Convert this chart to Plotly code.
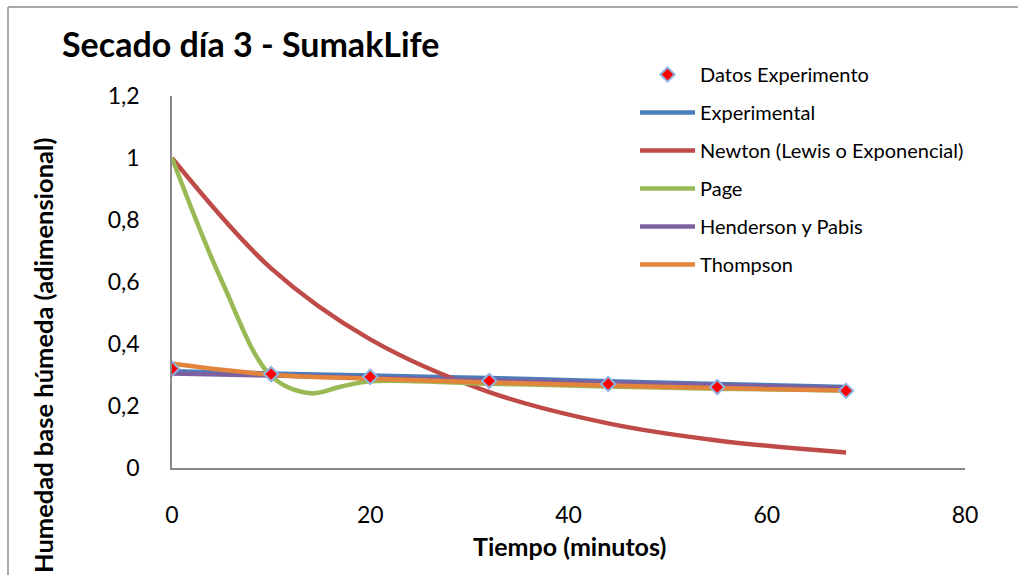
import plotly.graph_objects as go

# Drying time (minutes) and moisture ratio on wet basis
tiempo = [0, 10, 20, 32, 44, 55, 68]
datos_experimento = [0.320, 0.303, 0.294, 0.281, 0.271, 0.261, 0.249]

# Fitted drying models evaluated at the same times
experimental = [0.312, 0.305, 0.298, 0.290, 0.280, 0.271, 0.261]
newton = [1.000, 0.644, 0.415, 0.245, 0.144, 0.089, 0.050]
henderson_pabis = [0.305, 0.298, 0.291, 0.283, 0.275, 0.267, 0.258]
thompson = [0.336, 0.301, 0.288, 0.276, 0.266, 0.258, 0.250]

# Page model, sampled more finely over the first minutes
tiempo_page = [0, 5, 10, 14, 17, 20, 32, 44, 55, 68]
page = [1.000, 0.605, 0.297, 0.241, 0.262, 0.280, 0.272, 0.263, 0.256, 0.250]

x_ticks = [0, 20, 40, 60, 80]
y_ticks = [0, 0.2, 0.4, 0.6, 0.8, 1.0, 1.2]

W, H = 1019, 575
ML, MR, MT, MB = 172, 54, 96, 107
PW, PH = W - ML - MR, H - MT - MB

FONT = "Lato"

def px_x(px):
    return (px - ML) / PW

def px_y(py):
    return (H - MB - py) / PH

models = [
    ("Experimental", tiempo, experimental, "#4A7EBB"),
    ("Newton (Lewis o Exponencial)", tiempo, newton, "#BE4B48"),
    ("Page", tiempo_page, page, "#98B954"),
    ("Henderson y Pabis", tiempo, henderson_pabis, "#7D60A0"),
    ("Thompson", tiempo, thompson, "#E3843C"),
]

fig = go.Figure()
for i, (name, xs, vals, color) in enumerate(models):
    fig.add_trace(go.Scatter(
        x=xs, y=vals, name=name, mode="lines",
        line=dict(color=color, width=4.5, shape="spline", smoothing=1),
        legendgroup=name, legendrank=i + 2,
    ))

fig.add_trace(go.Scatter(
    x=tiempo, y=datos_experimento, name="Datos Experimento", mode="markers",
    marker=dict(symbol="diamond", size=11, color="#FF0000",
                line=dict(color="#8EB4E3", width=2)),
    legendgroup="datos", legendrank=1,
))

axis_common = dict(
    showgrid=False, zeroline=False, showline=True,
    linecolor="#898989", linewidth=1.5,
    ticks="outside", ticklen=26, tickcolor="rgba(0,0,0,0)",
    tickfont=dict(family=FONT, size=23, color="#000000"),
)

fig.update_xaxes(range=[0, 80], tickvals=x_ticks, **axis_common)
fig.update_yaxes(range=[0, 1.2], tickvals=y_ticks, **axis_common)

fig.update_layout(
    width=W, height=H,
    margin=dict(l=ML, r=MR, t=MT, b=MB, autoexpand=False),
    paper_bgcolor="white", plot_bgcolor="white",
    separators=",.",
    title=dict(text="<b>Secado día 3 - SumakLife</b>",
               font=dict(family=FONT, size=34, color="#000000"),
               x=62 / W, xanchor="left", xref="container",
               y=1 - 45 / H, yanchor="middle", yref="container"),
    legend=dict(
        x=px_x(635), xanchor="left", xref="paper",
        y=px_y(55), yanchor="top", yref="paper",
        font=dict(family=FONT, size=20, color="#000000"),
        traceorder="grouped", tracegroupgap=9, itemwidth=55,
        bgcolor="rgba(0,0,0,0)",
    ),
    showlegend=True,
    annotations=[
        dict(text="<b>Tiempo (minutos)</b>", x=px_x(569), y=px_y(546),
             xref="paper", yref="paper", showarrow=False,
             xanchor="center", yanchor="middle",
             font=dict(family=FONT, size=25, color="#000000")),
        dict(text="<b>Humedad base húmeda (adimensional)</b>", x=px_x(43), y=px_y(356),
             xref="paper", yref="paper", showarrow=False, textangle=-90,
             xanchor="center", yanchor="middle",
             font=dict(family=FONT, size=25.5, color="#000000")),
    ],
    shapes=[
        dict(type="line", xref="paper", yref="paper",
             x0=px_x(8), x1=px_x(8), y0=px_y(7), y1=px_y(H + 5),
             line=dict(color="#8C8C8C", width=1.5)),
        dict(type="line", xref="paper", yref="paper",
             x0=px_x(8), x1=px_x(1018), y0=px_y(7), y1=px_y(7),
             line=dict(color="#8C8C8C", width=1.5)),
    ],
)

fig.write_html("out.html")
